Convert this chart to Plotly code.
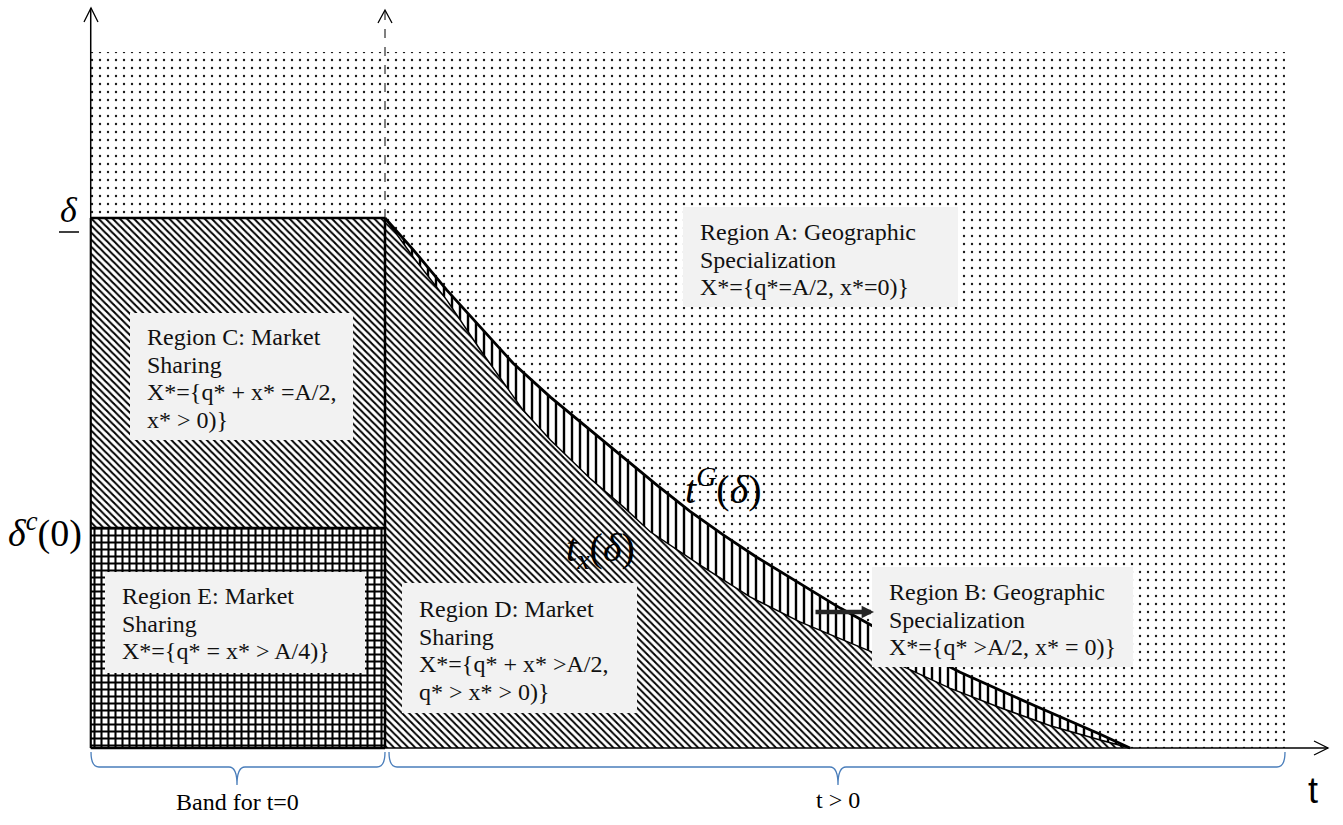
import plotly.graph_objects as go

# Threshold curves t(δ); t is normalised so both curves reach the t-axis at t = 1
tg_t = [0.0, 0.038, 0.083, 0.128, 0.172, 0.222, 0.275, 0.320, 0.365, 0.409,
        0.454, 0.499, 0.544, 0.611, 0.691, 0.772, 0.870, 0.960, 1.0]
tg_d = [1.0, 0.940, 0.864, 0.794, 0.726, 0.662, 0.600, 0.549, 0.496, 0.447,
        0.402, 0.360, 0.321, 0.264, 0.202, 0.143, 0.081, 0.026, 0.0]

tx_t = [0.0, 0.038, 0.083, 0.128, 0.185, 0.222, 0.275, 0.320, 0.356, 0.423,
        0.490, 0.557, 0.654, 0.758, 0.826, 0.893, 0.960, 1.0]
tx_d = [1.0, 0.926, 0.845, 0.751, 0.638, 0.581, 0.509, 0.455, 0.408, 0.345,
        0.285, 0.238, 0.181, 0.113, 0.076, 0.042, 0.015, 0.0]

delta_low = 1.0      # underlined δ
delta_c0 = 0.415     # δ^c(0)
band_left = -0.395   # left edge of the band for t = 0
t_right = 1.208      # right edge of the shaded t > 0 domain
delta_top = 1.313    # top of the shaded domain

# Text boxes: (left px, top px, right px, bottom px, first-line centre px, lines)
boxes = [
    (683, 207, 958, 307, 232, ["Region A: Geographic", "Specialization", "X*={q*=A/2, x*=0)}"]),
    (130, 313, 353, 440, 337, ["Region C: Market", "Sharing", "X*={q* + x* =A/2,", "x* > 0)}"]),
    (105, 572, 365, 673, 596, ["Region E: Market", "Sharing", "X*={q* = x* > A/4)}"]),
    (402, 583, 637, 713, 609, ["Region D: Market", "Sharing", "X*={q* + x* >A/2,", "q* > x* > 0)}"]),
    (872, 567, 1133, 667, 592, ["Region B: Geographic", "Specialization", "X*={q* >A/2, x* = 0)}"]),
]

W, H = 1343, 825
X0_PX, Y0_PX, UX, UY = 385, 748, 745, 530   # origin and unit lengths of the diagram


def px(x):
    return x / W


def py(y):
    return 1 - y / H


def dy(y_px):
    return (Y0_PX - y_px) / UY


def dx(x_px):
    return (x_px - X0_PX) / UX


SERIF = "Liberation Serif"
fig = go.Figure()


def region(xs, ys, shape, size, solidity, fg="black"):
    fig.add_trace(go.Scatter(
        x=xs, y=ys, mode="lines", fill="toself", line=dict(width=0, color=fg),
        fillcolor="white",
        fillpattern=dict(shape=shape, size=size, solidity=solidity,
                         fgcolor=fg, bgcolor="white", fgopacity=1),
        hoverinfo="skip", showlegend=False))


def line(xs, ys, width=1.5, dash="solid", color="black"):
    fig.add_trace(go.Scatter(x=xs, y=ys, mode="lines",
                             line=dict(color=color, width=width, dash=dash),
                             hoverinfo="skip", showlegend=False))


# Region A (dotted background)
region([band_left, t_right, t_right, band_left, band_left],
       [0, 0, delta_top, delta_top, 0], ".", 8, 0.07, "#1a1a1a")
# Region C
region([band_left, 0, 0, band_left, band_left],
       [delta_c0, delta_c0, delta_low, delta_low, delta_c0], "\\", 5, 0.4)
# Region E
region([band_left, 0, 0, band_left, band_left],
       [0, 0, delta_c0, delta_c0, 0], "+", 7, 0.5)
# Region B: between t_x and t^G
region(tg_t + tx_t[::-1], tg_d + tx_d[::-1], "|", 8, 0.3)
# Region D: below t_x
region(tx_t + [0, 0], tx_d + [0, delta_low], "\\", 5, 0.38)

# Boundaries
y_axis_top = dy(8)
x_axis_end = dx(1328)
line([band_left, band_left], [0, y_axis_top], 1.5)
line([band_left, band_left], [0, delta_low], 2)
line([band_left, x_axis_end], [0, 0], 1.5)
line([band_left, 0], [0, 0], 2.5)
line([band_left, 0], [delta_low, delta_low], 2.5)
line([band_left, 0], [delta_c0, delta_c0], 2.5)
line([0, 0], [0, delta_low], 2.5)
line([0, 0], [delta_low, dy(10)], 1, "dash")
line(tx_t, tx_d, 1.5)
line(tg_t, tg_d, 2.8)

shapes = []
# arrowheads (open chevrons)
for tip, a1, a2 in [((91, 8), (84, 22), (98, 22)),
                    ((385, 10), (378, 23), (392, 23)),
                    ((1328, 748), (1314, 741), (1314, 755))]:
    shapes.append(dict(type="path", xref="paper", yref="paper",
                       path=f"M{px(a1[0])},{py(a1[1])} L{px(tip[0])},{py(tip[1])} L{px(a2[0])},{py(a2[1])}",
                       line=dict(color="black", width=1.3)))


def brace(x0, x1, xm, y_top=752, y_mid=767, y_tip=785, r=8):
    p = [f"M{px(x0)},{py(y_top)}",
         f"Q{px(x0)},{py(y_mid)} {px(x0 + r)},{py(y_mid)}",
         f"L{px(xm - r)},{py(y_mid)}",
         f"Q{px(xm)},{py(y_mid)} {px(xm)},{py(y_tip)}",
         f"Q{px(xm)},{py(y_mid)} {px(xm + r)},{py(y_mid)}",
         f"L{px(x1 - r)},{py(y_mid)}",
         f"Q{px(x1)},{py(y_mid)} {px(x1)},{py(y_top)}"]
    return dict(type="path", xref="paper", yref="paper", path=" ".join(p),
                line=dict(color="#4a7ebb", width=1.3))


shapes.append(brace(91, 385, 237))
shapes.append(brace(389, 1285, 838))

# underline of δ
shapes.append(dict(type="line", xref="paper", yref="paper",
                   x0=px(59), x1=px(79), y0=py(232), y1=py(232),
                   line=dict(color="black", width=1.5)))

annotations = []


def label(x, y, text, size, family=SERIF, xanchor="center", color="black"):
    annotations.append(dict(xref="paper", yref="paper", x=px(x), y=py(y), text=text,
                            xanchor=xanchor, yanchor="middle", showarrow=False,
                            font=dict(family=family, size=size, color=color)))


for (l, t, r, b, y1, lines) in boxes:
    shapes.append(dict(type="rect", xref="paper", yref="paper", layer="above",
                       x0=px(l), x1=px(r), y0=py(b), y1=py(t),
                       fillcolor="#f2f2f2", line=dict(width=0)))
    for i, s in enumerate(lines):
        label(l + 15, y1 + 27.5 * i, s, 24, xanchor="left", color="#111")

# thick arrow pointing at the Region B label
annotations.append(dict(xref="paper", yref="paper", axref="pixel", ayref="pixel",
                        x=px(874), y=py(612), ax=-60, ay=0, text="", showarrow=True,
                        arrowhead=2, arrowsize=0.55, arrowwidth=4.5, arrowcolor="#262626",
                        standoff=0))

label(69, 210, "<i>δ</i>", 36)
label(84, 530, "<i>δ</i><sup><i>c</i></sup>(0)", 38, xanchor="right")
label(723, 486, "<i>t</i><sup><i>G</i></sup>(<i>δ</i>)", 40)
label(600, 550, "<i>t</i><sub><i>x</i></sub>(<i>δ</i>)", 40)
label(1313, 790, "t", 36, family="Liberation Sans")
label(237, 802, "Band for t=0", 24)
label(838, 800, "t &gt; 0", 24)

fig.update_layout(
    width=W, height=H, margin=dict(l=0, r=0, t=0, b=0),
    paper_bgcolor="white", plot_bgcolor="white",
    xaxis=dict(range=[dx(0), dx(W)], visible=False, fixedrange=True),
    yaxis=dict(range=[dy(H), dy(0)], visible=False, fixedrange=True),
    shapes=shapes, annotations=annotations, showlegend=False,
)

fig.write_html("out.html")
